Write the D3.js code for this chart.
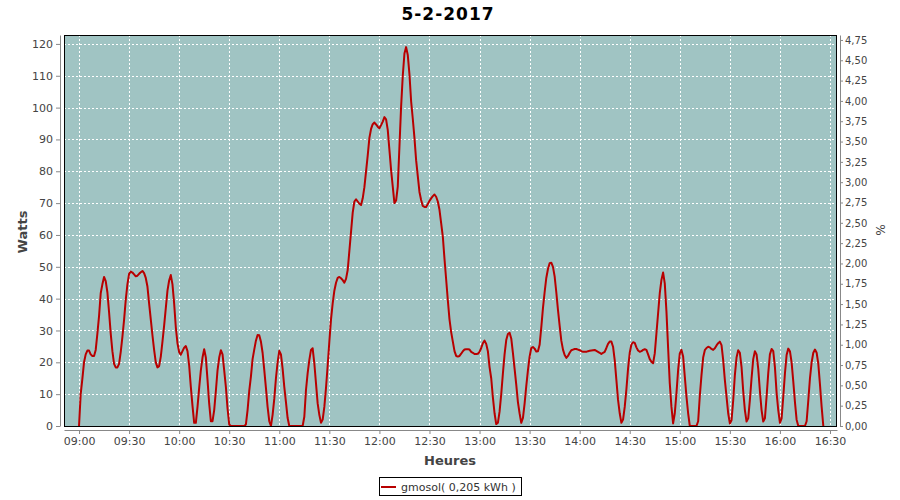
<!DOCTYPE html>
<html><head><meta charset="utf-8">
<script src="https://cdn.jsdelivr.net/npm/d3@7"></script>
<style>body{margin:0;background:#fff}svg{display:block}</style></head>
<body><svg id="c" width="900" height="500"></svg>
<script>
const chartTitle = "5-2-2017";
const seriesName = "gmosol( 0,205 kWh )";
const xAxisTitle = "Heures";
const leftAxisTitle = "Watts";
const rightAxisTitle = "%";
const dayDate = "2017-02-05";
const startTime = "09:00";
const stepMinutes = 1;
// Watts, one value per minute from 09:00
const watts = [
0,10,14.8,20,22.5,23.7,23.7,22.5,22,22,
23.9,29,34.5,41.7,44.5,46.8,45.5,42,35.8,29,
23.5,19.5,18.4,18.4,19.5,23.3,28,33.3,39.6,44.5,
47.8,48.5,48.2,47.6,47,47.2,47.8,48.3,48.7,48,
46.5,43.8,38.5,33.5,28.5,23.9,20,18.4,18.8,21.8,
26.5,31.5,37,42.5,45.7,47.4,44.5,38.5,31,26,
23.2,22.4,23.5,24.6,25.1,23.5,19,12.3,6.3,1,
1,6,12,17.5,21.5,24.1,21.5,14.5,7,1.5,
1.5,5,11,17.5,21.5,23.8,22.5,17.5,12.3,5.5,
0.5,0,0,0,0,0,0,0,0,0,
0.5,5,11,15.5,21,24,26.8,28.6,28.5,26.5,
23,17.6,12,6,1.5,0,3.5,8.5,15,20,
23.6,22.5,18,12.3,7.5,2.5,0,0,0,0,
0,0,0,0,0,2.9,11.3,16.6,20.7,23.9,
24.4,19.7,13.4,7.1,3.5,1,2,6,12,19,
26.5,33.5,38.5,42.5,45,46.5,46.8,46.4,45.8,45,
46.2,49,55,61,67,70.5,71.2,70.5,69.8,69.4,
71.5,75,80,85,90.5,93.3,94.8,95.3,94.7,94,
93.5,94.5,95.6,97,96.3,93,86.7,80.4,75.2,70,
70.8,75.2,87.7,100.3,110,117,119,116.5,110.5,102,
96.5,90.5,83.5,78.5,73.5,71,69.1,68.8,68.8,69.7,
70.7,71.5,72.2,72.7,72,70.5,67.9,63.7,59.5,52.5,
46,39.5,33.5,29.5,26.5,23.5,22,21.8,22,22.7,
23.5,24,24.1,24.1,24,23.3,23,22.6,22.6,22.7,
23.3,24.5,26,26.8,25.8,23.5,18.5,15,9,4,
0.6,1,4.5,10,16.5,22.5,27,28.9,29.3,27.5,
23,18,13,7.5,4,1,2.5,7,12.5,17.5,
21.8,24.5,24.8,24.3,23.4,23.5,25.5,31,37,42,
46.5,49.3,51.1,51.3,50,47,42,36.5,31.5,26.8,
24,22.3,21.4,22,23,23.8,24,24.2,24.2,24,
23.8,23.5,23.3,23.3,23.3,23.5,23.6,23.7,23.8,23.9,
23.6,23.3,23,22.6,23,23.3,24.5,25.8,26.5,26.5,
24.9,20.7,14.5,8.2,4,1,2,6,11.5,18,
23,25.6,26.3,26.1,24.7,23.7,23.3,23.5,23.9,24.1,
23.9,22.5,21,20.2,19.7,22.8,29.1,35.4,41.7,45.9,
48.2,44.8,36,24.5,13.4,6,0.8,4,10.3,17.6,
22.8,23.9,21.8,15.5,9.2,4,0,0,0,0,
0,1.5,9.5,16,21.5,23.8,24.5,24.9,24.7,24.2,
23.9,24.4,25.3,26,26.5,25.4,20.7,14.5,9.2,4,
0.8,1.8,8,16,21.5,23.8,23,18.5,11,5,
1.4,2.4,8.2,15,21,23.5,22.5,18,11,5,
1.4,2.4,9.2,16.6,22.5,24.2,23.5,18.5,10.5,5,
1,2.4,9.2,16.5,22.3,24.3,23.5,20,14,7.5,
2,0,0,0,0,0,1.5,8,15,20,
23,24,23,19.5,13,6,0
];
const xTickLabels = ["09:00","09:30","10:00","10:30","11:00","11:30","12:00","12:30","13:00","13:30","14:00","14:30","15:00","15:30","16:00","16:30"];
const leftTicks = [0,10,20,30,40,50,60,70,80,90,100,110,120];
const rightTicks = [0,0.25,0.5,0.75,1,1.25,1.5,1.75,2,2.25,2.5,2.75,3,3.25,3.5,3.75,4,4.25,4.5,4.75];
const xDomain = ["08:51:00","16:34:12"];
const leftMax = 122.8;
const rightMax = 4.811;

const parse = d3.timeParse("%Y-%m-%d %H:%M:%S");
const fmtT = d3.timeFormat("%H:%M");
const t0 = parse(dayDate + " " + startTime + ":00");
const data = watts.map((v, i) => ({t: d3.timeMinute.offset(t0, i * stepMinutes), v}));

const L = 64, R = 837, T = 35, B = 426;
const svg = d3.select("#c");
const font = "'DejaVu Sans', sans-serif";

const x = d3.scaleTime().domain(xDomain.map(s => parse(dayDate + " " + s))).range([L, R]);
const y = d3.scaleLinear().domain([0, leftMax]).range([B, T]);
const y2 = d3.scaleLinear().domain([0, rightMax]).range([B, T]);
const xTicks = xTickLabels.map(s => parse(dayDate + " " + s + ":00"));

// plot background
svg.append("rect").attr("x", L).attr("y", T).attr("width", R - L).attr("height", B - T).attr("fill", "#a0c4c3");

// grid
const g = svg.append("g").attr("stroke", "#fff").attr("stroke-width", 1).attr("stroke-dasharray", "2,2");
xTicks.forEach(t => {
  const px = Math.round(x(t)) + 0.5;
  g.append("line").attr("x1", px).attr("x2", px).attr("y1", T).attr("y2", B);
});
leftTicks.forEach(v => {
  const py = Math.round(y(v)) + 0.5;
  g.append("line").attr("x1", L).attr("x2", R).attr("y1", py).attr("y2", py);
});

// series line
const line = d3.line().x(d => x(d.t)).y(d => y(d.v));
svg.append("path").datum(data).attr("d", line).attr("fill", "none")
  .attr("stroke", "#b80000").attr("stroke-width", 2).attr("stroke-linejoin", "round");

// border
svg.append("rect").attr("x", L + 0.5).attr("y", T + 0.5).attr("width", R - L - 1).attr("height", B - T)
  .attr("fill", "none").attr("stroke", "#000").attr("stroke-width", 1);

function styleAxis(sel) {
  sel.selectAll("path.domain").attr("stroke", "#888");
  sel.selectAll(".tick line").attr("stroke", "#888");
  sel.selectAll(".tick text").attr("fill", "#444").style("font-family", font).style("font-size", "11px");
}

// left axis
const ax = svg.append("g").attr("transform", "translate(60,0)")
  .call(d3.axisLeft(y).tickValues(leftTicks).tickSize(4).tickSizeOuter(0).tickPadding(3).tickFormat(d3.format("d")));
styleAxis(ax);
// bottom axis
const bx = svg.append("g").attr("transform", "translate(0,430)")
  .call(d3.axisBottom(x).tickValues(xTicks).tickSize(4).tickSizeOuter(0).tickPadding(3).tickFormat(fmtT));
styleAxis(bx);
// right axis
const rx = svg.append("g").attr("transform", "translate(840,0)")
  .call(d3.axisRight(y2).tickValues(rightTicks).tickSize(3).tickSizeOuter(0).tickPadding(2)
    .tickFormat(v => d3.format(".2f")(v).replace(".", ",")));
styleAxis(rx);
rx.selectAll(".tick text").style("font-size", "10px");

// titles
svg.append("text").attr("x", 448).attr("y", 20).attr("text-anchor", "middle")
  .style("font-family", font).style("font-weight", "bold").style("font-size", "17px").style("letter-spacing", "1px")
  .attr("fill", "#000").text(chartTitle);
svg.append("text").attr("x", 450).attr("y", 465).attr("text-anchor", "middle")
  .style("font-family", font).style("font-weight", "bold").style("font-size", "13px")
  .attr("fill", "#444").text(xAxisTitle);
svg.append("text").attr("transform", "translate(27,232) rotate(-90)").attr("text-anchor", "middle")
  .style("font-family", font).style("font-weight", "bold").style("font-size", "13px")
  .attr("fill", "#444").text(leftAxisTitle);
svg.append("text").attr("transform", "translate(876,230) rotate(90)").attr("text-anchor", "middle")
  .style("font-family", font).style("font-size", "12px")
  .attr("fill", "#444").text(rightAxisTitle);

// legend
const lg = svg.append("g");
lg.append("rect").attr("x", 379.5).attr("y", 477.5).attr("width", 142).attr("height", 18)
  .attr("fill", "#fff").attr("stroke", "#000");
lg.append("line").attr("x1", 381).attr("x2", 396).attr("y1", 487).attr("y2", 487)
  .attr("stroke", "#b80000").attr("stroke-width", 2);
lg.append("text").attr("x", 401).attr("y", 491).style("font-family", font).style("font-size", "11px")
  .attr("fill", "#333").text(seriesName);
</script>
</body></html>
